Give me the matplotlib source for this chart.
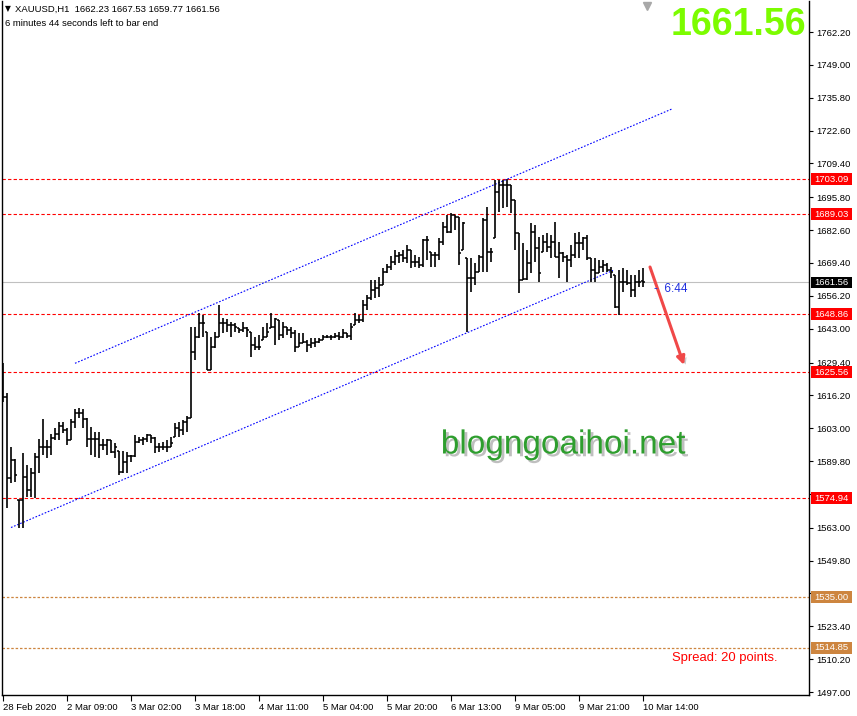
import matplotlib
matplotlib.use("Agg")
import matplotlib.pyplot as plt
import matplotlib.patheffects as pe
import matplotlib.transforms as mtransforms
from matplotlib.patches import Rectangle

plt.rcParams['font.family'] = ['Liberation Sans', 'DejaVu Sans']

# XAUUSD H1 bars (oldest first)
opens = [1625.0, 1615.6, 1583.0, 1590.2, 1574.2, 1574.2, 1583.4, 1578.2, 1585.0, 1591.4,
         1595.5, 1595.5, 1595.5, 1599.1, 1600.7, 1603.9, 1602.3, 1598.3, 1605.5, 1609.1,
         1609.1, 1606.7, 1598.7, 1598.7, 1598.7, 1596.3, 1596.3, 1598.3, 1593.5, 1593.9,
         1585.4, 1589.4, 1591.8, 1591.8, 1597.5, 1598.3, 1598.7, 1600.3, 1599.1, 1595.5,
         1595.5, 1595.5, 1595.5, 1599.5, 1603.1, 1602.3, 1605.5, 1607.1, 1633.6, 1639.7,
         1645.3, 1641.7, 1626.4, 1635.6, 1639.7, 1645.3, 1645.3, 1644.5, 1644.5, 1643.3,
         1642.5, 1643.3, 1641.7, 1636.4, 1635.6, 1638.5, 1639.7, 1643.3, 1643.7, 1646.5,
         1640.5, 1643.7, 1642.5, 1641.3, 1635.6, 1637.2, 1637.6, 1636.4, 1637.2, 1637.6,
         1638.5, 1639.7, 1639.7, 1639.7, 1640.1, 1639.7, 1641.3, 1640.1, 1644.5, 1646.5,
         1646.5, 1652.5, 1655.3, 1658.5, 1659.3, 1660.6, 1665.8, 1667.8, 1669.8, 1672.2,
         1672.6, 1671.4, 1674.6, 1669.8, 1669.8, 1668.6, 1678.6, 1673.8, 1672.6, 1672.6,
         1677.8, 1683.9, 1681.8, 1688.7, 1687.9, 1674.6, 1671.4, 1663.4, 1663.4, 1665.8,
         1671.8, 1686.7, 1673.8, 1679.4, 1697.9, 1700.7, 1700.7, 1700.7, 1694.7, 1681.4,
         1662.6, 1663.0, 1669.4, 1681.8, 1675.4, 1673.8, 1677.8, 1675.8, 1677.8, 1671.8,
         1673.4, 1671.8, 1670.6, 1672.6, 1677.4, 1677.4, 1679.4, 1671.4, 1666.6, 1665.4,
         1667.8, 1668.6, 1666.6, 1664.6, 1651.7, 1661.8, 1661.8, 1661.4, 1658.5, 1661.8,
         1662.23]
highs = [1629.2, 1617.2, 1595.5, 1590.6, 1574.2, 1593.0, 1588.2, 1587.0, 1593.0, 1598.7,
         1606.7, 1598.3, 1600.7, 1603.1, 1605.5, 1605.5, 1603.1, 1606.7, 1610.7, 1611.1,
         1610.7, 1607.1, 1603.5, 1601.5, 1601.5, 1598.7, 1598.7, 1598.3, 1597.1, 1593.9,
         1593.9, 1593.5, 1592.2, 1600.3, 1599.5, 1599.5, 1600.7, 1600.3, 1599.5, 1597.1,
         1597.5, 1598.3, 1599.5, 1605.1, 1605.5, 1606.3, 1607.9, 1643.7, 1643.7, 1649.3,
         1648.5, 1641.7, 1639.7, 1641.7, 1652.5, 1647.3, 1646.9, 1645.7, 1645.3, 1643.3,
         1645.7, 1643.7, 1641.7, 1639.7, 1640.5, 1643.7, 1645.3, 1649.3, 1647.3, 1646.5,
         1645.7, 1643.7, 1643.7, 1642.5, 1641.3, 1641.3, 1638.5, 1639.3, 1639.3, 1639.3,
         1640.5, 1640.5, 1640.5, 1641.3, 1641.7, 1642.9, 1641.3, 1645.3, 1649.3, 1648.5,
         1654.5, 1656.5, 1662.6, 1662.6, 1663.8, 1667.4, 1669.0, 1672.2, 1674.6, 1673.8,
         1674.6, 1676.6, 1674.6, 1672.6, 1671.8, 1679.0, 1680.2, 1673.8, 1673.8, 1679.4,
         1685.9, 1688.7, 1689.5, 1688.7, 1687.9, 1685.9, 1671.4, 1671.4, 1669.4, 1672.6,
         1687.5, 1691.9, 1675.4, 1702.7, 1702.7, 1702.7, 1703.09, 1700.7, 1694.7, 1681.4,
         1677.4, 1674.6, 1685.5, 1684.7, 1679.8, 1680.6, 1681.4, 1680.6, 1685.9, 1677.8,
         1673.8, 1672.6, 1676.6, 1681.4, 1681.8, 1679.8, 1680.6, 1671.4, 1671.4, 1670.6,
         1670.6, 1669.4, 1667.8, 1664.6, 1666.6, 1667.4, 1666.6, 1664.6, 1664.6, 1666.6,
         1667.53]
lows = [1613.5, 1571.0, 1581.0, 1581.4, 1562.9, 1562.9, 1575.4, 1575.4, 1575.0, 1585.0,
        1592.2, 1591.0, 1592.2, 1598.3, 1598.3, 1601.1, 1596.3, 1598.3, 1603.1, 1607.1,
        1603.1, 1595.5, 1592.2, 1591.4, 1591.0, 1594.3, 1592.2, 1593.0, 1591.0, 1584.2,
        1585.0, 1585.0, 1589.4, 1591.4, 1597.1, 1596.3, 1597.5, 1597.1, 1593.0, 1593.5,
        1594.3, 1593.5, 1595.5, 1599.5, 1599.5, 1600.3, 1601.5, 1607.1, 1630.4, 1639.3,
        1639.7, 1626.4, 1626.4, 1635.2, 1639.7, 1641.3, 1641.7, 1639.7, 1641.7, 1641.3,
        1641.7, 1639.7, 1631.6, 1634.4, 1634.4, 1638.5, 1639.7, 1643.3, 1636.4, 1638.5,
        1639.3, 1640.5, 1639.3, 1633.6, 1635.6, 1637.2, 1633.6, 1635.2, 1635.6, 1637.2,
        1638.5, 1639.3, 1638.5, 1639.3, 1638.5, 1639.3, 1639.3, 1638.5, 1644.5, 1645.3,
        1645.7, 1650.5, 1654.5, 1655.3, 1655.7, 1660.6, 1665.4, 1666.6, 1668.6, 1669.4,
        1669.8, 1669.4, 1667.4, 1667.8, 1667.4, 1667.8, 1670.6, 1667.8, 1667.8, 1670.6,
        1676.6, 1681.4, 1681.4, 1682.7, 1668.6, 1674.6, 1641.7, 1657.7, 1660.6, 1665.8,
        1665.8, 1665.8, 1669.8, 1679.4, 1689.9, 1691.5, 1691.9, 1689.5, 1674.6, 1657.3,
        1662.6, 1662.6, 1665.4, 1669.8, 1661.8, 1673.8, 1673.8, 1671.4, 1671.8, 1663.4,
        1669.8, 1661.8, 1667.8, 1671.4, 1671.4, 1674.6, 1670.6, 1661.8, 1661.8, 1665.4,
        1665.8, 1665.8, 1663.4, 1651.3, 1648.5, 1657.7, 1660.6, 1655.7, 1655.7, 1659.7,
        1659.77]
closes = [1615.6, 1583.0, 1590.2, 1584.2, 1574.2, 1583.4, 1578.2, 1585.0, 1591.4, 1595.5,
          1595.5, 1595.5, 1599.1, 1600.7, 1603.9, 1602.3, 1598.3, 1605.5, 1609.1, 1609.1,
          1606.7, 1598.7, 1598.7, 1598.7, 1596.3, 1596.3, 1598.3, 1593.5, 1595.5, 1585.4,
          1589.4, 1591.8, 1591.8, 1597.5, 1598.3, 1598.7, 1600.3, 1599.1, 1595.5, 1595.5,
          1595.5, 1595.5, 1597.1, 1603.1, 1602.3, 1605.5, 1607.1, 1633.6, 1639.7, 1645.3,
          1645.3, 1626.4, 1635.6, 1639.7, 1645.3, 1645.3, 1644.5, 1644.5, 1643.7, 1642.5,
          1643.3, 1642.5, 1636.4, 1635.6, 1635.6, 1639.7, 1641.7, 1643.7, 1646.9, 1640.5,
          1643.7, 1642.5, 1641.3, 1635.6, 1637.2, 1637.6, 1636.4, 1637.2, 1637.6, 1638.5,
          1639.7, 1639.7, 1639.7, 1640.1, 1639.7, 1641.3, 1640.1, 1643.7, 1646.5, 1646.5,
          1652.5, 1655.3, 1658.5, 1659.3, 1660.6, 1665.8, 1667.8, 1669.8, 1672.2, 1672.6,
          1671.4, 1674.6, 1669.8, 1669.8, 1668.6, 1678.6, 1678.6, 1672.6, 1672.6, 1677.8,
          1683.9, 1681.8, 1688.7, 1687.9, 1673.4, 1685.5, 1663.4, 1663.4, 1665.8, 1671.8,
          1686.7, 1673.8, 1673.8, 1697.9, 1700.7, 1700.7, 1700.7, 1694.7, 1681.4, 1662.6,
          1663.0, 1669.4, 1681.8, 1675.4, 1665.4, 1677.8, 1675.8, 1677.8, 1671.8, 1673.4,
          1671.8, 1670.6, 1672.6, 1677.4, 1677.4, 1679.4, 1671.4, 1666.6, 1665.4, 1667.8,
          1668.6, 1666.6, 1665.8, 1651.7, 1661.8, 1661.8, 1661.4, 1658.5, 1661.8, 1661.8,
          1661.56]

date_bars = [0, 16, 32, 48, 64, 80, 96, 112, 128, 144, 160]
date_labels = ["28 Feb 2020", "2 Mar 09:00", "3 Mar 02:00", "3 Mar 18:00", "4 Mar 11:00",
               "5 Mar 04:00", "5 Mar 20:00", "6 Mar 13:00", "9 Mar 05:00", "9 Mar 21:00",
               "10 Mar 14:00"]
# price scale; the two hidden behind tags have no label
price_ticks = [1497.00, 1510.20, 1523.40, 1536.60, 1549.80, 1563.00, 1576.40, 1589.80,
               1603.00, 1616.20, 1629.40, 1643.00, 1656.20, 1669.40, 1682.60, 1695.80,
               1709.40, 1722.60, 1735.80, 1749.00, 1762.20]
hidden_ticks = [1536.60, 1576.40]

red_levels = [1703.09, 1689.03, 1648.86, 1625.56, 1574.94]
brown_levels = [1535.00, 1514.85]
last_price = 1661.56

# channel trend lines (bar index, price)
upper_x = [18.0, 167.2]
upper_y = [1629.09, 1731.26]
lower_x = [2.0, 152.5]
lower_y = [1563.11, 1666.41]
arrow_x = [161.75, 170.25]
arrow_y = [1667.78, 1628.4]

fig = plt.figure(figsize=(8.57, 7.16), dpi=100)
ax = fig.add_axes([2/857, 21/716, 807/857, 694/716])
ax.set_xlim(-0.25, 201.5)
ax.set_ylim(1495.81, 1774.66)

n = len(closes)
idx = list(range(n))
ax.vlines(idx, lows, highs, color='black', lw=1.2, zorder=3)
ax.hlines(opens, [i - 0.5 for i in idx], idx, color='black', lw=1.1, zorder=3)
ax.hlines(closes, idx, [i + 0.5 for i in idx], color='black', lw=1.1, zorder=3)

for lv in red_levels:
    ax.axhline(lv, color='#FF0000', lw=0.8, ls=(0, (3, 2)), zorder=2)
for lv in brown_levels:
    ax.axhline(lv, color='#CD853F', lw=0.9, ls=(0, (2, 1.5)), zorder=2)
ax.axhline(last_price, color='#C0C0C0', lw=0.8, zorder=1)

ax.plot(upper_x, upper_y, color='#0000FF', lw=0.8, ls=(0, (1.5, 1.5)), zorder=2)
ax.plot(lower_x, lower_y, color='#0000FF', lw=0.8, ls=(0, (1.5, 1.5)), zorder=2)

shadow = [pe.SimplePatchShadow(offset=(2, -2), shadow_rgbFace='gray', alpha=0.4), pe.Normal()]
ax.annotate('', xy=(arrow_x[1], arrow_y[1]), xytext=(arrow_x[0], arrow_y[0]),
            arrowprops=dict(arrowstyle='-|>', color='#F04848', lw=2.2, mutation_scale=12,
                            shrinkA=0, shrinkB=0, path_effects=shadow), zorder=4)

# price tags on the right scale
trans = mtransforms.blended_transform_factory(ax.transAxes, ax.transData)
tags = [(lv, '#FF0000') for lv in red_levels] + [(lv, '#CD853F') for lv in brown_levels]
tags.append((last_price, '#000000'))
for lv, col in tags:
    ax.add_patch(Rectangle((1.0025, lv - 2.4), 0.0508, 4.8, transform=trans, fc=col,
                           ec='none', clip_on=False, zorder=6))
    ax.text(1.0273, lv, f'{lv:.2f}', transform=trans, ha='center', va='center',
            color='white', fontsize=6.8, clip_on=False, zorder=7)

ax.yaxis.tick_right()
ax.set_yticks(price_ticks)
ax.set_yticklabels(['' if v in hidden_ticks else f'{v:.2f}' for v in price_ticks])
ax.tick_params(axis='y', length=3, width=0.8, pad=2, labelsize=6.8, colors='black')
ax.set_xticks(date_bars)
ax.set_xticklabels(date_labels, ha='left')
ax.tick_params(axis='x', length=4, width=0.8, pad=2, labelsize=6.8)
ax.spines['top'].set_visible(False)
for s in ['left', 'right', 'bottom']:
    ax.spines[s].set_linewidth(1.0)

# chart-shift marker
ax.plot([161], [1772.8], marker='v', color='#A8A8A8', ms=6, clip_on=False, zorder=5)

# texts
fig.text(5/857, 1 - 9/716, '\u25bc', fontsize=5.5, va='center', family=['DejaVu Sans'])
fig.text(15/857, 1 - 9/716, 'XAUUSD,H1  1662.23 1667.53 1659.77 1661.56', fontsize=6.8, va='center')
fig.text(5/857, 1 - 23/716, '6 minutes 44 seconds left to bar end', fontsize=6.8, va='center')
fig.text(806/857, 1 - 25/716, '1661.56', fontsize=27, fontweight='bold', color='#7CFC00',
         ha='right', va='center')
fig.text(563/857, 1 - 445/716, 'blogngoaihoi.net', fontsize=24, color='#2E9E2E',
         ha='center', va='center',
         path_effects=[pe.SimplePatchShadow(offset=(2, -2), shadow_rgbFace='gray', alpha=0.5),
                       pe.Normal()])
fig.text(654/857, 1 - 289/716, '-  6:44', fontsize=8.5, color='#2030E0', va='center')
fig.text(725/857, 1 - 658/716, 'Spread: 20 points.', fontsize=9.4, color='#FF0000',
         ha='center', va='center')

fig.savefig('out.png', dpi=100)
